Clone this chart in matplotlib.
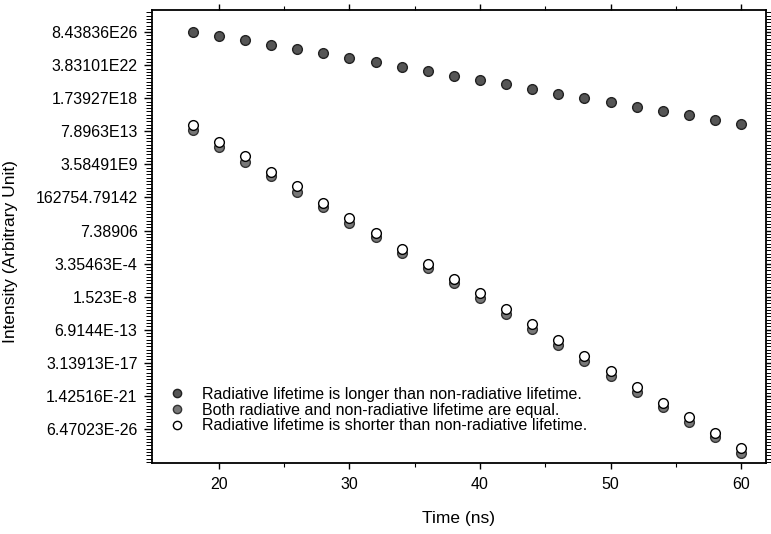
import numpy as np
import matplotlib

matplotlib.use("Agg")
import matplotlib.pyplot as plt
from matplotlib.ticker import FixedLocator, FixedFormatter, NullFormatter

# time axis (ns)
time_ns = [18, 20, 22, 24, 26, 28, 30, 32, 34, 36, 38, 40,
           42, 44, 46, 48, 50, 52, 54, 56, 58, 60]

# natural log of intensity
ln_longer = [62.0, 60.8, 59.6, 58.1, 56.9, 55.7, 54.1, 52.9, 51.4, 50.2, 48.7,
             47.5, 46.3, 44.8, 43.3, 42.1, 40.9, 39.3, 38.1, 36.9, 35.4, 34.2]
ln_equal = [32.4, 27.2, 22.7, 18.5, 13.6, 9.1, 4.3, 0.0, -4.8, -9.3, -13.9,
            -18.4, -23.3, -27.8, -32.6, -37.5, -42.0, -46.8, -51.4, -55.9, -60.4, -65.3]
ln_shorter = [33.9, 28.7, 24.5, 19.7, 15.4, 10.3, 5.8, 1.2, -3.6, -8.1, -12.7,
              -16.9, -21.7, -26.3, -31.1, -35.9, -40.5, -45.3, -50.2, -54.4, -59.2, -63.8]

legend_labels = [
    "Radiative lifetime is longer than non-radiative lifetime.",
    "Both radiative and non-radiative lifetime are equal.",
    "Radiative lifetime is shorter than non-radiative lifetime.",
]

ytick_ln = [62, 52, 42, 32, 22, 12, 2, -8, -18, -28, -38, -48, -58]
ytick_labels = ["8.43836E26", "3.83101E22", "1.73927E18", "7.8963E13", "3.58491E9",
                "162754.79142", "7.38906", "3.35463E-4", "1.523E-8", "6.9144E-13",
                "3.13913E-17", "1.42516E-21", "6.47023E-26"]
xticks = [20, 30, 40, 50, 60]

plt.rcParams["font.family"] = ["Liberation Sans", "DejaVu Sans"]

fig = plt.figure(figsize=(7.71, 5.34), dpi=100)
ax = fig.add_axes([0.197, 0.133, 0.7965, 0.848])

ax.set_yscale("log", base=np.e)

ax.plot(time_ns, np.exp(ln_longer), "o", ms=7, mfc="#555555", mec="#222222", mew=1.0,
        label=legend_labels[0], zorder=3)
ax.plot(time_ns, np.exp(ln_equal), "o", ms=7, mfc="#777777", mec="#333333", mew=1.0,
        label=legend_labels[1], zorder=3)
ax.plot(time_ns, np.exp(ln_shorter), "o", ms=7, mfc="white", mec="black", mew=1.0,
        label=legend_labels[2], zorder=4)

ax.set_xlim(14.87, 61.9)
ax.set_ylim(np.exp(-68.3), np.exp(68.65))

ax.xaxis.set_major_locator(FixedLocator(xticks))
ax.xaxis.set_minor_locator(FixedLocator([25, 35, 45, 55]))
ax.yaxis.set_major_locator(FixedLocator(np.exp(ytick_ln)))
ax.yaxis.set_major_formatter(FixedFormatter(ytick_labels))
ax.yaxis.set_minor_locator(FixedLocator(np.exp(np.arange(-68, 69, 1.0))))
ax.yaxis.set_minor_formatter(NullFormatter())

ax.tick_params(axis="x", which="major", direction="out", length=4.5, width=1.0,
               pad=5.5, labelsize=11.5, top=True)
ax.tick_params(axis="x", which="minor", direction="out", length=3, width=0.8, top=True)
ax.tick_params(axis="y", which="major", direction="out", length=5.5, width=1.0,
               pad=4.8, labelsize=11.5, right=True)
ax.tick_params(axis="y", which="minor", direction="out", length=4.5, width=0.7, right=True)

for sp in ax.spines.values():
    sp.set_linewidth(1.3)

ax.set_xlabel("Time (ns)", fontsize=12.5)
ax.xaxis.set_label_coords(0.5, -0.106)
ax.set_ylabel("Intensity (Arbitrary Unit)", fontsize=12.5)
ax.yaxis.set_label_coords(-0.218, 0.466)

ax.legend(loc="upper left", bbox_to_anchor=(0.0277, 0.168), frameon=False,
          fontsize=11.5, borderpad=0, borderaxespad=0, handlelength=1.0,
          handletextpad=1.1, labelspacing=0.05, markerscale=0.85)

fig.savefig("out.png", dpi=100)
